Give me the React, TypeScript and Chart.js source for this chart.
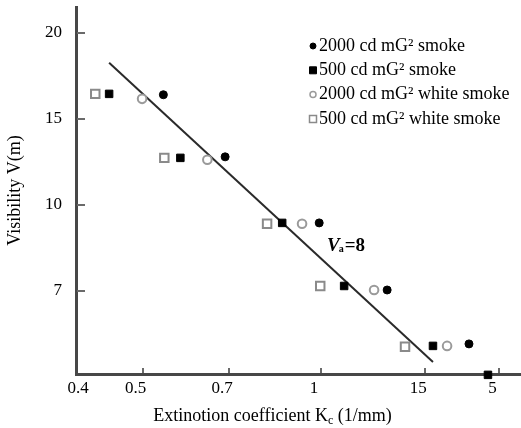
import React, { useEffect, useRef } from "react";
import { Chart, registerables } from "chart.js";

Chart.register(...registerables);

const FONT = "'Liberation Serif', 'Times New Roman', serif";

// Axis ticks (the printed labels are kept exactly as they appear)
const xTickValues = [0.4, 0.5, 0.7, 1, 1.5, 2];
const xTickLabels = ["0.4", "0.5", "0.7", "1", "15", "5"];
const yTickValues = [7, 10, 15, 20];
const yTickLabels = ["7", "10", "15", "20"];
const xMin = 0.386;
const xMax = 2.175;
const vMin = 4.1;
const vMax = 21.5;

// Series
const seriesLabels = [
  "2000 cd mG\u00B2 smoke",
  "500 cd mG\u00B2 smoke",
  "2000 cd mG\u00B2 white smoke",
  "500 cd mG\u00B2 white smoke",
];
const smoke2000K = [0.542, 0.689, 0.993, 1.293, 1.777];
const smoke2000V = [16.4, 12.79, 9.37, 7.03, 5.15];
const smoke500K = [0.439, 0.579, 0.86, 1.094, 1.545, 1.913];
const smoke500V = [16.45, 12.73, 9.37, 7.17, 5.08, 4.07];
const white2000K = [0.499, 0.643, 0.929, 1.229, 1.632];
const white2000V = [16.16, 12.62, 9.34, 7.03, 5.08];
const white500K = [0.416, 0.544, 0.811, 0.997, 1.386];
const white500V = [16.45, 12.73, 9.34, 7.17, 5.05];

// Fitted line end points
const fitK = [0.439, 1.545];
const fitV = [18.26, 4.52];

// Texts
const yTitle = "Visibility V(m)";
const xTitleMain = "Extinotion coefficient K";
const xTitleSub = "c";
const xTitleRest = " (1/mm)";
const noteMain = "V";
const noteSub = "a";
const noteRest = "=8";
const noteK = 1.024;
const noteV = 8.4;

// Visibility axis: printed ticks are evenly spaced -> piecewise position
function yPos(v: number): number {
  const t = yTickValues;
  let i = 0;
  if (v <= t[0]) i = 0;
  else if (v >= t[t.length - 1]) i = t.length - 2;
  else {
    while (i < t.length - 2 && v > t[i + 1]) i++;
  }
  return i + (v - t[i]) / (t[i + 1] - t[i]);
}

function pts(k: number[], v: number[]) {
  return k.map((x, i) => ({ x, y: yPos(v[i]) }));
}

const styles = [
  { pointStyle: "circle", radius: 4, bg: "#000", border: "#000", bw: 1, lr: 3 },
  { pointStyle: "rect", radius: 5.3, bg: "#000", border: "#000", bw: 1, lr: 3.5 },
  { pointStyle: "circle", radius: 4.3, bg: "#fff", border: "#9a9a9a", bw: 2, lr: 3 },
  { pointStyle: "rect", radius: 6, bg: "#fff", border: "#8a8a8a", bw: 2, lr: 3.5 },
];

const extrasPlugin = {
  id: "extras",
  afterDraw(chart: any) {
    const { ctx, chartArea, scales } = chart;
    const xs = scales.x;
    const ys = scales.y;
    ctx.save();
    // tick marks (inside)
    ctx.strokeStyle = "#6a6a6a";
    ctx.lineWidth = 2;
    yTickValues.forEach((v) => {
      const py = Math.round(ys.getPixelForValue(yPos(v)));
      ctx.beginPath();
      ctx.moveTo(chartArea.left + 1, py);
      ctx.lineTo(chartArea.left + 9, py);
      ctx.stroke();
    });
    xTickValues.forEach((v, i) => {
      if (i === 0) return;
      const px = Math.round(xs.getPixelForValue(v));
      ctx.beginPath();
      ctx.moveTo(px, chartArea.bottom - 1);
      ctx.lineTo(px, chartArea.bottom - 6);
      ctx.stroke();
    });

    // legend
    const lx = 313;
    seriesLabels.forEach((label, i) => {
      const s = styles[i];
      const ly = 46 + i * 24.3;
      ctx.fillStyle = s.bg;
      ctx.strokeStyle = s.border;
      ctx.lineWidth = s.bw === 2 ? 1.5 : 1;
      ctx.beginPath();
      if (s.pointStyle === "circle") {
        ctx.arc(lx, ly, s.lr, 0, Math.PI * 2);
      } else {
        ctx.rect(lx - s.lr, ly - s.lr, s.lr * 2, s.lr * 2);
      }
      ctx.fill();
      ctx.stroke();
      ctx.fillStyle = "#000";
      ctx.font = `18px ${FONT}`;
      ctx.textBaseline = "middle";
      ctx.textAlign = "left";
      ctx.fillText(label, lx + 6, ly);
    });

    // x title with subscript
    ctx.fillStyle = "#000";
    ctx.textBaseline = "alphabetic";
    const fMain = `18px ${FONT}`;
    const fSub = `12px ${FONT}`;
    ctx.font = fMain;
    const w1 = ctx.measureText(xTitleMain).width;
    const w3 = ctx.measureText(xTitleRest).width;
    ctx.font = fSub;
    const w2 = ctx.measureText(xTitleSub).width;
    const total = w1 + w2 + w3;
    const cx = (chartArea.left + chartArea.right) / 2 - 26;
    const by = chartArea.bottom + 47;
    let x0 = cx - total / 2;
    ctx.font = fMain;
    ctx.fillText(xTitleMain, x0, by);
    x0 += w1;
    ctx.font = fSub;
    ctx.fillText(xTitleSub, x0, by + 3);
    x0 += w2;
    ctx.font = fMain;
    ctx.fillText(xTitleRest, x0, by);

    // annotation
    const ax = xs.getPixelForValue(noteK);
    const ay = ys.getPixelForValue(yPos(noteV));
    ctx.font = `italic bold 19px ${FONT}`;
    ctx.fillText(noteMain, ax, ay);
    const vw = ctx.measureText(noteMain).width;
    ctx.font = `bold 10px ${FONT}`;
    ctx.fillText(noteSub, ax + vw - 1, ay + 1);
    const sw = ctx.measureText(noteSub).width;
    ctx.font = `bold 19px ${FONT}`;
    ctx.fillText(noteRest, ax + vw + sw, ay);
    ctx.restore();
  },
};

export default function App() {
  const ref = useRef<HTMLCanvasElement | null>(null);

  useEffect(() => {
    document.body.style.margin = "0";
    const canvas = ref.current;
    if (!canvas) return;

    const seriesData = [
      pts(smoke2000K, smoke2000V),
      pts(smoke500K, smoke500V),
      pts(white2000K, white2000V),
      pts(white500K, white500V),
    ];

    const datasets: any[] = seriesData.map((data, i) => ({
      label: seriesLabels[i],
      data,
      pointStyle: styles[i].pointStyle,
      pointRadius: styles[i].radius,
      pointBackgroundColor: styles[i].bg,
      pointBorderColor: styles[i].border,
      pointBorderWidth: styles[i].bw,
      showLine: false,
      clip: false,
      order: 1,
    }));
    datasets.push({
      label: "fit",
      data: pts(fitK, fitV),
      showLine: true,
      borderColor: "#2a2a2a",
      borderWidth: 2,
      pointRadius: 0,
      order: 10,
    });

    const chart = new Chart(canvas, {
      type: "scatter",
      data: { datasets },
      options: {
        animation: false,
        responsive: false,
        devicePixelRatio: 1,
        layout: { autoPadding: false, padding: { top: 7, right: 0, left: 0, bottom: 0 } },
        plugins: { legend: { display: false }, tooltip: { enabled: false } },
        scales: {
          x: {
            type: "logarithmic",
            min: xMin,
            max: xMax,
            afterBuildTicks: (scale: any) => {
              scale.ticks = xTickValues.map((v) => ({ value: v }));
            },
            afterFit: (scale: any) => {
              scale.height = 54;
              scale.paddingLeft = 0;
              scale.paddingRight = 0;
            },
            grid: { display: false, drawTicks: false },
            border: { display: true, color: "#474747", width: 3 },
            ticks: {
              autoSkip: false,
              maxRotation: 0,
              padding: 4,
              labelOffset: -7,
              color: "#000",
              font: { family: FONT, size: 17 },
              callback: (_v: any, i: number) => xTickLabels[i],
            },
          },
          y: {
            type: "linear",
            min: yPos(vMin),
            max: yPos(vMax),
            afterBuildTicks: (scale: any) => {
              scale.ticks = yTickValues.map((v) => ({ value: yPos(v) }));
            },
            afterFit: (scale: any) => {
              scale.width = 76;
              scale.paddingTop = 0;
              scale.paddingBottom = 0;
            },
            grid: { display: false, drawTicks: false },
            border: { display: true, color: "#474747", width: 3 },
            ticks: {
              autoSkip: false,
              padding: 14,
              color: "#000",
              font: { family: FONT, size: 17 },
              callback: (_v: any, i: number) => yTickLabels[i],
            },
            title: {
              display: true,
              text: yTitle,
              color: "#000",
              font: { family: FONT, size: 18 },
              padding: { top: 4, bottom: 0 },
            },
          },
        },
      },
      plugins: [extrasPlugin],
    } as any);

    return () => chart.destroy();
  }, []);

  return (
    <div style={{ position: "absolute", left: 0, top: 0, width: 521, height: 428, background: "#fff" }}>
      <canvas ref={ref} width={521} height={428} />
    </div>
  );
}
